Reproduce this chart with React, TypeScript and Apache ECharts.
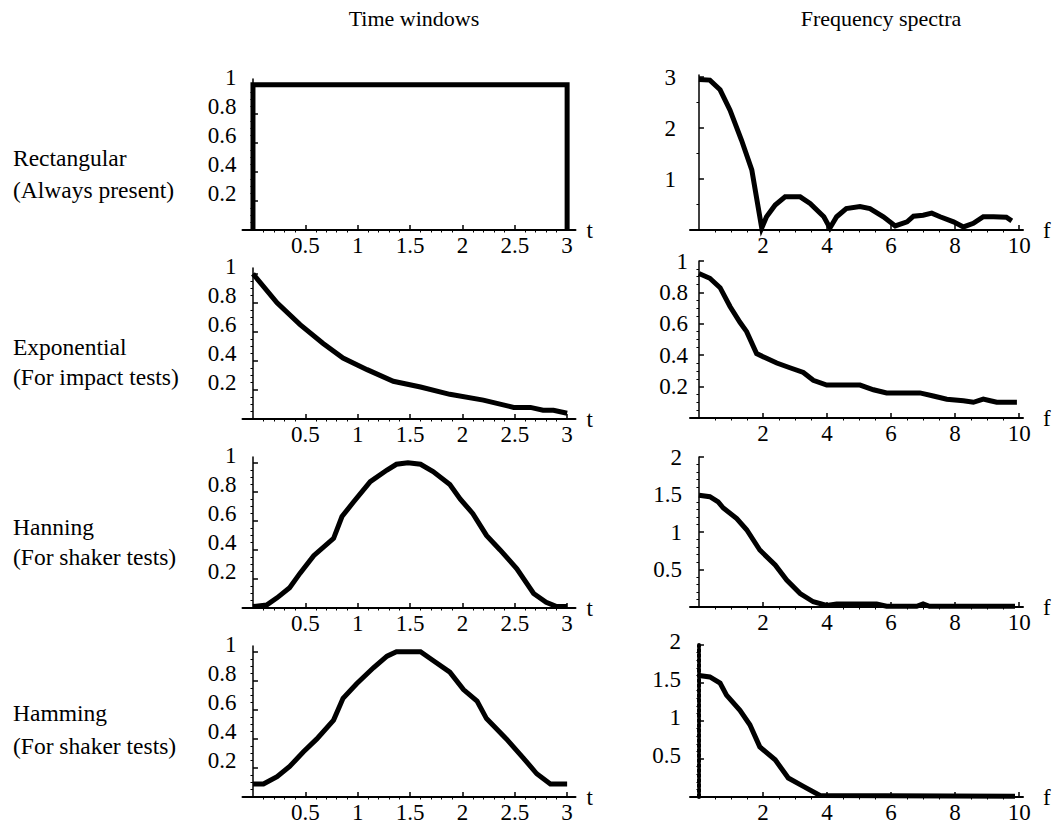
import React, { useEffect, useRef } from "react";
import * as echarts from "echarts";

const FONT = "'Liberation Serif', 'Times New Roman', serif";

const columnTitles = ["Time windows", "Frequency spectra"];
const rowNames = ["Rectangular", "Exponential", "Hanning", "Hamming"];
const rowNotes = ["(Always present)", "(For impact tests)", "(For shaker tests)", "(For shaker tests)"];

// ---- time windows ----
const rectT = [0, 0, 3, 3];
const rectW = [0, 1, 1, 0];
const expT = [0, 0.23, 0.45, 0.67, 0.86, 1.09, 1.34, 1.6, 1.88, 2.2, 2.49, 2.65, 2.77, 2.87, 3.0];
const expW = [1.0, 0.8, 0.65, 0.52, 0.42, 0.34, 0.26, 0.22, 0.17, 0.13, 0.08, 0.08, 0.06, 0.06, 0.04];
const hannT = [0, 0.13, 0.23, 0.35, 0.45, 0.58, 0.77, 0.85, 0.96, 1.12, 1.28, 1.37, 1.48, 1.6, 1.72, 1.88, 1.98, 2.1, 2.23, 2.36, 2.52, 2.68, 2.8, 2.9, 3.0];
const hannW = [0.01, 0.02, 0.07, 0.14, 0.24, 0.36, 0.48, 0.63, 0.73, 0.87, 0.95, 0.99, 1.0, 0.99, 0.94, 0.85, 0.75, 0.65, 0.5, 0.4, 0.27, 0.1, 0.04, 0.01, 0.01];
const hammT = [0, 0.1, 0.23, 0.35, 0.48, 0.61, 0.77, 0.86, 0.99, 1.15, 1.28, 1.37, 1.48, 1.6, 1.72, 1.88, 2.01, 2.14, 2.23, 2.42, 2.58, 2.71, 2.84, 3.0];
const hammW = [0.09, 0.09, 0.14, 0.21, 0.31, 0.4, 0.53, 0.68, 0.78, 0.89, 0.97, 1.0, 1.0, 1.0, 0.94, 0.86, 0.74, 0.66, 0.54, 0.4, 0.27, 0.16, 0.09, 0.09];

// ---- frequency spectra ----
const rectF = [0, 0.34, 0.66, 0.97, 1.33, 1.65, 1.96, 2.11, 2.38, 2.69, 3.16, 3.47, 3.9, 4.09, 4.3, 4.6, 5.03, 5.34, 5.76, 6.13, 6.5, 6.7, 7.0, 7.27, 7.53, 7.95, 8.26, 8.57, 8.88, 9.2, 9.6, 9.77];
const rectS = [2.95, 2.94, 2.75, 2.35, 1.76, 1.18, 0.04, 0.26, 0.49, 0.65, 0.65, 0.52, 0.26, 0.04, 0.26, 0.42, 0.46, 0.42, 0.26, 0.08, 0.16, 0.27, 0.29, 0.33, 0.26, 0.16, 0.06, 0.13, 0.26, 0.26, 0.25, 0.18];
const expF = [0, 0.34, 0.66, 0.97, 1.28, 1.49, 1.8, 2.11, 2.43, 2.84, 3.26, 3.57, 3.99, 5.03, 5.45, 5.86, 6.9, 7.32, 7.74, 8.26, 8.57, 8.88, 9.1, 9.3, 9.93];
const expS = [0.92, 0.89, 0.83, 0.71, 0.61, 0.55, 0.41, 0.38, 0.35, 0.32, 0.29, 0.24, 0.21, 0.21, 0.18, 0.16, 0.16, 0.14, 0.12, 0.11, 0.1, 0.12, 0.11, 0.1, 0.1];
const hannF = [0, 0.34, 0.6, 0.76, 1.18, 1.49, 1.9, 2.38, 2.74, 3.16, 3.57, 3.99, 4.3, 5.55, 5.86, 6.8, 7.0, 7.2, 9.87];
const hannS = [1.49, 1.47, 1.4, 1.32, 1.18, 1.03, 0.76, 0.56, 0.36, 0.18, 0.07, 0.02, 0.04, 0.04, 0.01, 0.01, 0.04, 0.01, 0.01];
const hammF = [0, 0.34, 0.66, 0.86, 1.28, 1.59, 1.9, 2.38, 2.79, 3.26, 3.78, 9.87];
const hammS = [1.6, 1.58, 1.5, 1.34, 1.14, 0.95, 0.66, 0.49, 0.25, 0.14, 0.02, 0.01];

// ---- tick labels ----
const timeTicks = [0.5, 1, 1.5, 2, 2.5, 3];
const windowTicks = [0.2, 0.4, 0.6, 0.8, 1];
const freqTicks = [2, 4, 6, 8, 10];
const rectSpecTicks = [1, 2, 3];
const expSpecTicks = [0.2, 0.4, 0.6, 0.8, 1];
const hannSpecTicks = [0.5, 1, 1.5, 2];
const hammSpecTicks = [0.5, 1, 1.5, 2];

function steps(from: number, to: number, step: number): number[] {
  const out: number[] = [];
  const n = Math.round((to - from) / step);
  for (let i = 0; i <= n; i++) out.push(+(from + i * step).toFixed(4));
  return out;
}
function minorOf(from: number, to: number, step: number, major: number): number[] {
  return steps(from, to, step).filter((v) => Math.abs(v / major - Math.round(v / major)) > 1e-6);
}
const zip = (a: number[], b: number[]) => a.map((v, i) => [v, b[i]]);

type Panel = {
  data: number[][];
  left: number; width: number; top: number; height: number;
  xMin: number; xMax: number; yMax: number;
  xMajor: number[]; xMinor: number[]; yMajor: number[]; yMinor: number[];
  xName: string; nameGap: number; yMargin: number; yLift: number; dashedY?: boolean;
};

const L = { left: 242.5, width: 333, xMin: -0.1, xMax: 3.08 };
const R = { left: 690, width: 333, xMin: -0.28, xMax: 10.12 };
const leftAxes = [230, 419, 608, 797];

const panels: Panel[] = [
  ...[zip(rectT, rectW), zip(expT, expW), zip(hannT, hannW), zip(hammT, hammW)].map((data, i) => ({
    data, ...L, top: leftAxes[i] - 151, height: 151, yMax: 1.04,
    xMajor: timeTicks, xMinor: minorOf(0, 3, 0.1, 0.5), yMajor: windowTicks, yMinor: minorOf(0, 1, 0.05, 0.2),
    xName: "t", nameGap: 11, yMargin: 6, yLift: 7,
  })),
  { data: zip(rectF, rectS), ...R, top: 75, height: 155, yMax: 3.04, xMajor: freqTicks, xMinor: minorOf(0, 10, 0.5, 2),
    yMajor: rectSpecTicks, yMinor: minorOf(0, 3, 0.5, 1), xName: "f", nameGap: 20, yMargin: 14, yLift: 0 },
  { data: zip(expF, expS), ...R, top: 261, height: 157, yMax: 1.0, xMajor: freqTicks, xMinor: minorOf(0, 10, 0.5, 2),
    yMajor: expSpecTicks, yMinor: minorOf(0, 1, 0.05, 0.2), xName: "f", nameGap: 20, yMargin: 2, yLift: 0 },
  { data: zip(hannF, hannS), ...R, top: 457, height: 150, yMax: 2.0, xMajor: freqTicks, xMinor: minorOf(0, 10, 0.5, 2),
    yMajor: hannSpecTicks, yMinor: minorOf(0, 2, 0.1, 0.5), xName: "f", nameGap: 20, yMargin: 8, yLift: 0 },
  { data: zip(hammF, hammS), ...R, top: 645, height: 152, yMax: 2.0, xMajor: freqTicks, xMinor: minorOf(0, 10, 0.5, 2),
    yMajor: hammSpecTicks, yMinor: minorOf(0, 2, 0.1, 0.5), xName: "f", nameGap: 20, yMargin: 9, yLift: 4, dashedY: true },
];

const titleCenters = [414, 881];
const rowLabelY = [[158, 190], [347, 377], [527, 557], [713, 746]];

export default function App() {
  const ref = useRef<HTMLDivElement>(null);
  useEffect(() => {
    if (!ref.current) return;
    const chart = echarts.init(ref.current, undefined, { renderer: "svg" });
    const textStyle = { fontFamily: FONT, fontSize: 23, color: "#000" };
    const grid: any[] = [];
    const xAxis: any[] = [];
    const yAxis: any[] = [];
    const series: any[] = [];
    panels.forEach((p, i) => {
      grid.push({ left: p.left, top: p.top, width: p.width, height: p.height, containLabel: false });
      xAxis.push({
        gridIndex: i, type: "value", min: p.xMin, max: p.xMax,
        name: p.xName, nameLocation: "end", nameGap: p.nameGap, nameTextStyle: { ...textStyle },
        axisLine: { show: true, onZero: true, lineStyle: { color: "#000", width: 2 } },
        axisTick: { show: true, inside: true, length: 5, customValues: p.xMajor, lineStyle: { color: "#000", width: 1.5 } },
        axisLabel: { show: true, customValues: p.xMajor, margin: 4, ...textStyle },
        splitLine: { show: false },
      });
      xAxis.push({
        gridIndex: i, type: "value", min: p.xMin, max: p.xMax,
        axisLine: { show: false, onZero: true },
        axisTick: { show: true, inside: true, length: 2.5, customValues: p.xMinor, lineStyle: { color: "#000", width: 1 } },
        axisLabel: { show: false },
        splitLine: { show: false },
      });
      const labelAlign = p.yLift > 0
        ? { verticalAlign: "bottom", lineHeight: p.yLift * 2 }
        : { verticalAlign: "middle" };
      yAxis.push({
        gridIndex: i, type: "value", min: 0, max: p.yMax,
        axisLine: {
          show: true, onZero: true, onZeroAxisIndex: 2 * i,
          lineStyle: p.dashedY ? { color: "#000", width: 4, type: [3, 2] } : { color: "#000", width: 1.5 },
        },
        axisTick: { show: true, inside: true, length: 5, customValues: p.yMajor, lineStyle: { color: "#000", width: 1.5 } },
        axisLabel: { show: true, customValues: p.yMajor, margin: p.yMargin, ...textStyle, ...labelAlign },
        splitLine: { show: false },
      });
      yAxis.push({
        gridIndex: i, type: "value", min: 0, max: p.yMax,
        axisLine: { show: false, onZero: true, onZeroAxisIndex: 2 * i },
        axisTick: { show: true, inside: true, length: 2.5, customValues: p.yMinor, lineStyle: { color: "#000", width: 1 } },
        axisLabel: { show: false },
        splitLine: { show: false },
      });
      series.push({
        type: "line", xAxisIndex: 2 * i, yAxisIndex: 2 * i, data: p.data,
        showSymbol: false, symbol: "none", clip: false, silent: true, z: 5,
        lineStyle: { color: "#000", width: 5, cap: "butt", join: "miter" },
      });
    });
    const graphic: any[] = [];
    columnTitles.forEach((t, i) => {
      graphic.push({
        type: "text", x: titleCenters[i], y: 18,
        style: { text: t, fontFamily: FONT, fontSize: 22, fill: "#000", align: "center", verticalAlign: "middle" },
      });
    });
    rowNames.forEach((n, i) => {
      graphic.push({
        type: "text", x: 13, y: rowLabelY[i][0],
        style: { text: n, fontFamily: FONT, fontSize: 23.5, fill: "#000", align: "left", verticalAlign: "middle" },
      });
      graphic.push({
        type: "text", x: 13, y: rowLabelY[i][1],
        style: { text: rowNotes[i], fontFamily: FONT, fontSize: 23.5, fill: "#000", align: "left", verticalAlign: "middle" },
      });
    });
    chart.setOption({
      animation: false,
      backgroundColor: "#fff",
      textStyle: { fontFamily: FONT },
      grid, xAxis, yAxis, series, graphic,
    });
    return () => chart.dispose();
  }, []);
  return (
    <div
      ref={ref}
      style={{ position: "fixed", left: 0, top: 0, width: 1059, height: 828, background: "#fff" }}
    />
  );
}
